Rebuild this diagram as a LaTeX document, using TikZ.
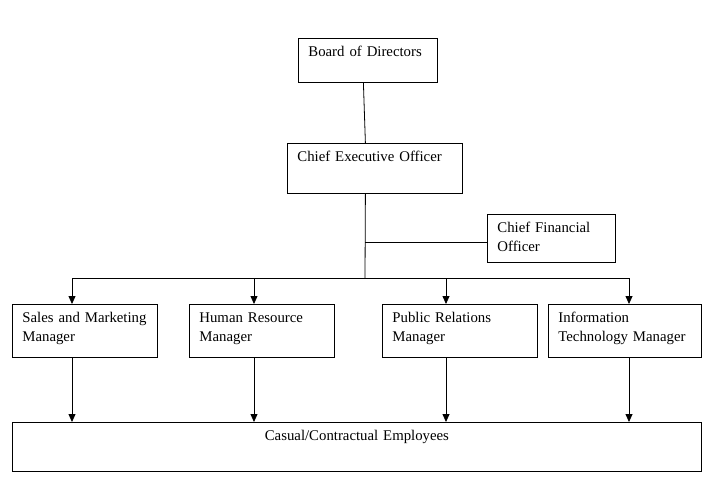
\documentclass[tikz,border=0pt]{standalone}
\usepackage{fontspec}
\setmainfont{Liberation Serif}
\usetikzlibrary{positioning,arrows.meta}

\begin{document}
\begin{tikzpicture}[x=1pt,y=-1pt,line width=0.8pt,font=\fontsize{14.8}{19.5}\selectfont,
  box/.style={draw,anchor=north west,align=left,inner xsep=10pt,inner ysep=0pt,text height=18pt},
  feed/.style={-{Triangle[length=8pt,width=7pt]}}]
\useasboundingbox (0,0) rectangle (721,485);
\path node[box,text width=119pt,text depth=26pt] (board) at (298,38) {Board of Directors}
  node[box,text width=155pt,text depth=32pt] (ceo) at (287,143) {Chief Executive Officer}
  node[box,text width=108pt,text depth=30pt] (cfo) at (487,214) {Chief Financial\\ Officer}
  node[box,text width=125pt,text depth=35pt] (sales) at (12,304) {Sales and Marketing\\ Manager}
  node[box,text width=125pt,text depth=35pt] (hr) at (189,304) {Human Resource\\ Manager}
  node[box,text width=135pt,text depth=35pt] (pr) at (382,304) {Public Relations\\ Manager}
  node[box,text width=133pt,text depth=35pt] (it) at (548,304) {Information\\ Technology Manager}
  node[box,align=center,text width=669pt,text depth=31pt] (casual) at (12,422) {Casual/Contractual Employees};
\coordinate (spine) at ([xshift=-9.5pt]ceo.south);
\coordinate (tap) at (365,242);
\coordinate (bus) at (365,278);
\draw ([xshift=-4.5pt]board.south) -- ([xshift=-9.5pt]ceo.north);
\draw (spine) -- (bus);
\draw (tap) -- (tap -| cfo.west);
\draw (72,0 |- bus) -- (629,0 |- bus);
\foreach \n/\x in {sales/72,hr/254,pr/446,it/629} {
  \draw[feed] (\x,0 |- bus) -- (\x,0 |- \n.north);
  \draw[feed] (\x,0 |- \n.south) -- (\x,0 |- casual.north);
}
\end{tikzpicture}
\end{document}
